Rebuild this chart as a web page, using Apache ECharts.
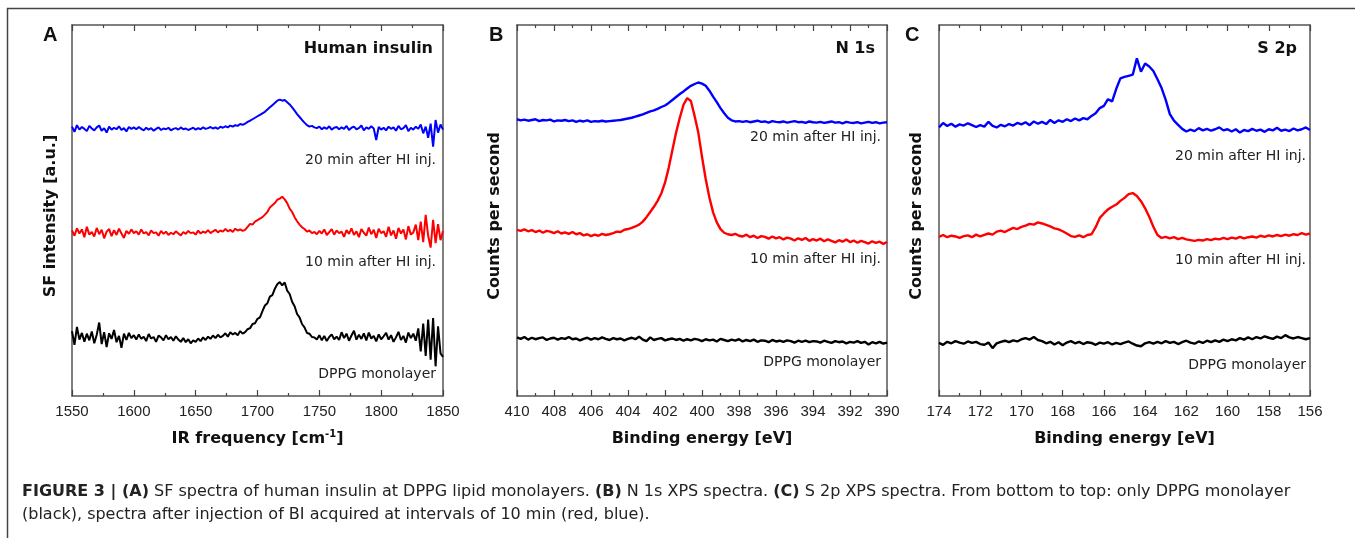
<!DOCTYPE html>
<html><head><meta charset="utf-8">
<script src="https://cdn.jsdelivr.net/npm/echarts@6/dist/echarts.min.js"></script>
<style>html,body{margin:0;padding:0;background:#fff}#c{width:1355px;height:538px}</style>
</head><body><div id="c"></div>
<script>
// ---------- Panel A: SF spectra (x = IR frequency, cm-1) ----------
const aStart = 1550, aStep = 2;
const aBlack = [
17.5,13.8,18.6,15.2,17.0,14.6,16.8,15.0,17.4,14.2,16.5,19.8,14.0,17.2,13.2,16.9,15.4,17.8,14.5,16.2,13.0,16.8,15.1,17.0,15.6,16.4,
15.2,16.6,15.4,16.0,14.8,16.7,15.5,15.9,14.6,16.3,15.8,15.0,16.4,15.3,15.9,14.9,16.1,15.2,14.6,15.6,
14.5,15.3,14.2,15.0,14.6,15.5,14.8,15.8,15.1,16.0,15.4,16.3,15.6,16.5,15.8,16.2,16.9,16.0,17.2,16.6,17.0,16.4,17.5,16.8,
17.2,18.0,18.3,19.4,19.6,20.8,21.2,22.9,24.4,25.0,26.8,27.2,28.9,30.1,30.7,29.8,30.6,28.4,27.5,25.4,
24.2,22.1,21.2,19.4,18.5,17.0,16.8,15.9,15.8,
15.2,16.4,15.0,16.2,14.8,15.9,16.6,15.3,16.0,15.1,17.2,15.6,16.8,14.9,16.3,17.6,15.2,16.5,15.4,16.9,
15.0,17.1,15.5,16.2,14.7,16.6,15.3,16.1,17.0,15.2,16.4,14.6,15.8,17.3,15.1,16.2,14.4,17.1,15.6,16.8,14.9,
18.2,12.0,19.5,10.8,20.6,9.8,21.0,8.0,18.8,11.5,10.5];
const aRed = [
44.6,43.2,45.2,43.8,44.9,42.8,45.6,43.5,44.2,43.0,45.3,43.6,44.8,42.5,44.3,45.0,43.1,44.7,43.4,45.1,43.8,42.6,44.5,43.7,44.9,43.9,
44.4,43.5,44.9,43.8,44.2,43.3,44.6,43.9,44.1,43.2,44.5,43.7,44.3,43.4,44.0,43.6,44.4,43.8,43.3,44.2,
43.7,44.5,43.9,44.1,43.5,44.6,43.8,44.3,44.0,44.7,43.9,44.4,44.8,44.1,44.6,44.3,45.0,44.4,44.8,44.2,45.1,44.6,44.9,44.5,
44.8,45.6,46.4,46.2,47.0,47.4,47.8,48.2,48.9,49.6,50.8,51.4,52.0,52.9,53.2,53.7,53.0,52.0,50.5,49.6,
48.2,47.1,46.2,45.5,45.0,44.3,44.6,43.9,44.2,
43.6,44.5,43.8,44.9,43.4,44.2,45.0,43.5,44.6,43.9,44.3,42.9,44.7,43.7,45.2,43.4,44.4,42.8,45.0,44.0,
43.2,45.4,43.6,44.8,42.6,45.1,43.9,44.4,42.9,45.6,43.3,44.6,42.4,45.3,43.8,44.9,42.2,45.8,43.5,44.1,46.2,
42.0,47.0,41.5,48.8,43.2,40.0,47.5,41.2,46.3,42.0,44.5];
const aBlue = [
72.6,71.2,73.0,71.8,72.5,72.0,71.4,72.8,72.1,71.6,72.4,72.9,71.5,72.2,71.0,72.6,71.8,72.3,71.9,72.7,71.7,72.2,71.3,72.5,72.0,72.4,
71.9,72.5,72.0,71.6,72.3,71.8,72.2,71.5,72.0,72.4,71.7,72.1,71.9,72.3,71.6,72.0,72.2,71.8,72.4,71.9,
72.1,71.7,72.0,72.3,71.8,72.2,71.9,72.4,72.0,72.2,72.5,72.1,72.4,72.0,72.6,72.3,72.7,72.4,72.9,72.6,73.0,72.8,73.3,73.1,
73.4,73.9,74.2,74.6,75.0,75.4,75.8,76.2,76.6,77.2,77.8,78.4,79.0,79.6,79.9,79.6,79.8,79.2,78.6,77.8,
76.9,76.0,75.2,74.4,73.7,73.0,72.6,72.8,72.4,
72.2,72.6,71.9,72.4,72.0,72.7,71.8,72.3,72.5,71.9,72.4,72.0,72.8,71.7,72.3,72.6,71.9,72.2,72.9,71.6,
72.4,72.0,72.7,72.1,69.0,72.5,71.8,72.3,71.6,72.6,72.0,72.4,71.5,72.8,71.9,72.2,73.0,71.4,72.3,71.8,72.6,
72.0,73.2,70.8,72.6,69.6,73.4,67.2,74.4,71.0,73.2,71.8];

// ---------- Panel B: N 1s XPS (x = binding energy, eV, from 410 down) ----------
const bStart = 410, bStep = -0.2;
const bBlack = [
15.8,15.4,15.9,15.2,15.7,15.3,15.6,15.8,15.1,15.5,15.7,15.2,15.6,15.4,15.9,15.3,15.5,15.0,15.4,15.7,15.2,15.6,15.3,15.8,15.4,
15.1,15.6,15.3,15.5,15.0,15.4,15.7,15.3,16.0,15.2,14.8,15.8,15.1,15.4,15.6,15.0,15.3,15.5,15.1,15.4,14.9,15.3,15.0,15.4,15.2,14.8,
15.3,15.0,15.2,14.7,15.4,15.1,14.8,15.2,14.9,15.3,
14.7,15.1,14.8,15.2,14.6,15.0,14.9,14.5,15.1,14.7,14.9,14.6,15.0,14.8,14.4,14.9,14.6,14.9,14.5,14.8,
14.7,14.4,14.9,14.6,14.3,14.8,14.5,14.7,14.2,14.6,14.4,14.8,14.3,14.6,13.9,14.5,14.2,14.6,14.1,14.4];
const bRed = [
44.8,44.5,44.9,44.4,44.7,44.2,44.6,44.0,44.5,44.3,43.9,44.4,43.8,44.1,43.7,44.2,43.6,43.9,43.3,43.6,43.1,43.5,43.2,43.7,43.4,
43.6,43.9,44.3,44.2,44.8,45.0,45.3,45.7,46.2,47.0,48.2,49.6,51.0,52.6,54.6,57.5,61.5,66.3,71.0,75.0,78.5,80.3,79.5,75.5,71.0,64.5,
58.5,53.5,49.5,46.8,45.0,44.0,43.6,43.4,43.7,43.2,
43.0,43.5,42.8,43.2,42.6,43.1,42.9,42.4,43.0,42.5,42.8,42.2,42.7,42.4,41.9,42.5,42.1,42.6,41.8,42.3,
41.9,42.4,41.7,42.2,41.8,41.4,42.0,41.6,42.2,41.5,41.9,41.3,41.8,41.5,41.1,41.7,41.3,41.6,41.0,41.5];
const bBlue = [
74.6,74.3,74.5,74.2,74.4,74.6,74.1,74.4,74.3,74.5,74.0,74.3,74.2,74.4,74.1,74.3,73.9,74.2,74.0,74.3,73.9,74.1,74.0,74.2,74.0,
74.1,74.2,74.3,74.4,74.6,74.8,75.0,75.3,75.6,75.9,76.3,76.7,77.0,77.4,77.9,78.3,79.0,79.8,80.6,81.4,82.1,82.9,83.6,84.1,84.5,84.2,
83.6,82.3,80.7,79.2,77.6,76.2,75.0,74.3,74.0,74.1,
73.9,74.1,73.8,74.0,74.2,73.9,74.0,73.7,74.1,73.9,73.8,74.0,73.7,73.9,74.1,73.8,73.9,73.6,74.0,73.8,
73.7,73.9,73.6,73.8,74.0,73.7,73.8,73.5,73.9,73.7,73.6,73.8,73.5,73.7,73.9,73.6,73.8,73.5,73.7,73.8];

// ---------- Panel C: S 2p XPS (x = binding energy, eV, from 174 down) ----------
const cStart = 174, cStep = -0.2;
const cBlack = [
14.3,13.8,14.6,14.2,14.8,14.4,14.1,14.7,14.3,14.6,14.0,13.8,14.4,12.9,14.2,14.6,14.9,14.5,15.0,14.7,
15.3,15.6,15.2,15.9,15.1,14.8,14.2,14.6,13.9,14.5,13.7,14.4,14.8,
14.2,14.6,14.0,14.5,14.3,13.8,14.4,14.1,14.5,13.9,14.3,14.0,14.4,14.7,14.1,13.6,13.4,14.2,
14.5,14.1,14.6,14.2,14.8,14.3,14.6,14.0,14.5,14.9,14.4,14.1,14.7,14.3,14.9,14.5,15.0,14.6,15.2,14.8,
15.3,15.0,15.6,15.2,15.8,15.3,15.9,15.5,16.1,15.7,15.4,16.0,15.6,16.4,15.8,15.5,15.9,15.6,15.3,15.6];
const cRed = [
42.9,43.4,42.8,43.2,43.0,42.6,43.1,43.3,42.8,43.5,43.0,43.4,43.8,43.5,44.3,44.6,44.2,44.8,45.3,45.0,
45.6,45.9,46.4,46.2,46.8,46.5,46.1,45.7,45.2,44.9,44.4,43.8,43.1,
42.9,43.3,42.8,43.4,43.6,45.5,48.0,49.2,50.3,51.0,51.6,52.6,53.4,54.4,54.7,53.9,52.5,50.6,
48.3,45.6,43.4,42.6,42.9,42.5,42.8,42.3,42.6,42.2,42.0,41.8,42.1,41.9,42.3,42.0,42.4,42.2,42.6,42.3,
42.7,42.4,42.9,42.5,42.8,43.0,42.7,43.2,42.9,43.3,43.0,43.4,43.1,43.5,43.2,43.6,43.4,43.9,43.5,43.8];
const cBlue = [
72.4,73.6,72.8,73.4,72.6,73.2,72.9,73.5,73.0,72.5,73.0,72.6,73.9,72.8,72.4,73.1,72.7,73.3,72.9,73.6,
73.2,73.8,73.0,74.0,73.4,73.9,73.3,74.4,73.6,74.3,73.9,74.6,74.1,
74.8,74.3,74.9,74.6,75.5,76.2,77.6,78.2,80.0,79.4,82.8,85.6,86.0,86.3,86.6,91.0,87.4,89.6,
88.8,87.6,85.4,83.0,79.8,76.0,74.2,73.1,72.0,71.3,71.8,71.4,72.2,71.6,72.0,71.5,71.9,72.4,71.6,71.9,
71.3,71.9,71.0,71.7,71.4,72.0,71.5,71.8,71.2,71.9,71.6,72.3,71.5,71.8,71.4,72.1,71.6,71.9,72.4,71.7];

const seriesLabels = ['20 min after HI inj.', '10 min after HI inj.', 'DPPG monolayer'];
const panelTitles = ['Human insulin', 'N 1s', 'S 2p'];
const panelLetters = ['A', 'B', 'C'];
const xNames = ['IR frequency [cm{sup|-1}]', 'Binding energy [eV]', 'Binding energy [eV]'];
const yNames = ['SF intensity [a.u.]', 'Counts per second', 'Counts per second'];
const xRanges = [[1550, 1850, 50], [390, 410, 2], [156, 174, 2]];

function pairs(start, step, vals) { return vals.map((v, i) => [+(start + step * i).toFixed(2), v]); }

const FONT = '"Liberation Sans", Arial, Helvetica, sans-serif';
const WFONT = '"DejaVu Sans", "Liberation Sans", Arial, sans-serif';
const grids = [
  {left: 72, top: 25, width: 371, height: 371},
  {left: 517, top: 25, width: 370, height: 371},
  {left: 939, top: 25, width: 371, height: 371}
];
const axisCol = '#555';
const xAxes = [], yAxes = [];
grids.forEach((g, k) => {
  const [mn, mx, iv] = xRanges[k];
  const common = {
    gridIndex: k, type: 'value', min: mn, max: mx, interval: iv, inverse: k > 0,
    axisLine: {show: true, onZero: false, lineStyle: {color: axisCol, width: 1.5}},
    axisTick: {show: true, inside: true, length: 6, lineStyle: {color: '#444', width: 1.2}},
    minorTick: {show: true, splitNumber: 2, length: 3, lineStyle: {color: '#444', width: 1.2}},
    splitLine: {show: false}, minorSplitLine: {show: false}
  };
  xAxes.push(Object.assign({}, common, {
    position: 'bottom',
    axisLabel: {fontSize: 15, color: '#222', margin: 8, fontFamily: FONT, formatter: v => String(v)},
    name: xNames[k], nameLocation: 'middle', nameGap: 33,
    nameTextStyle: {fontSize: 16, fontWeight: 'bold', color: '#111', fontFamily: WFONT, lineHeight: 20,
      rich: {sup: {fontSize: 10, fontWeight: 'bold', color: '#111', fontFamily: WFONT, verticalAlign: 'top', lineHeight: 12}}}
  }));
  xAxes.push(Object.assign({}, common, {position: 'top', axisLabel: {show: false}}));
  yAxes.push({
    gridIndex: k, type: 'value', min: 0, max: 100, position: 'left',
    axisLine: {show: true, onZero: false, lineStyle: {color: axisCol, width: 1.5}},
    axisTick: {show: false}, axisLabel: {show: false}, splitLine: {show: false}
  });
  yAxes.push({
    gridIndex: k, type: 'value', min: 0, max: 100, position: 'right',
    axisLine: {show: true, onZero: false, lineStyle: {color: axisCol, width: 1.5}},
    axisTick: {show: false}, axisLabel: {show: false}, splitLine: {show: false}
  });
});

function line(data, color, k, w) {
  return {type: 'line', data: data, xAxisIndex: 2 * k, yAxisIndex: 2 * k, showSymbol: false, symbol: 'none',
    lineStyle: {color: color, width: w}, itemStyle: {color: color}, animation: false, silent: true};
}
const series = [
  line(pairs(aStart, aStep, aBlack), '#000000', 0, 2),
  line(pairs(aStart, aStep, aRed), '#ff0000', 0, 2),
  line(pairs(aStart, aStep, aBlue), '#0000ff', 0, 2),
  line(pairs(bStart, bStep, bBlack), '#000000', 1, 2.4),
  line(pairs(bStart, bStep, bRed), '#ff0000', 1, 2.4),
  line(pairs(bStart, bStep, bBlue), '#0000ff', 1, 2.4),
  line(pairs(cStart, cStep, cBlack), '#000000', 2, 2.4),
  line(pairs(cStart, cStep, cRed), '#ff0000', 2, 2.4),
  line(pairs(cStart, cStep, cBlue), '#0000ff', 2, 2.4)
];

// text layout positions
const letterX = [43, 489, 905];
const titleRight = [433, 875, 1297];
const labelRight = [436, 881, 1306];
const labelY = [[160, 262, 374], [137, 259, 362], [156, 260, 365]];
const yTitleX = [51, 495, 917];
const graphic = [
  {type: 'rect', shape: {x: 7.5, y: 8.5, width: 1400, height: 600}, style: {fill: 'none', stroke: '#444', lineWidth: 1.5}, silent: true, z: -10}
];
for (let k = 0; k < 3; k++) {
  graphic.push({type: 'text', x: letterX[k], y: 35, style: {text: panelLetters[k], fill: '#111', fontSize: 20, fontWeight: 'bold', fontFamily: FONT, textAlign: 'left', textVerticalAlign: 'middle'}});
  graphic.push({type: 'text', x: titleRight[k], y: 49, style: {text: panelTitles[k], fill: '#111', fontSize: 16, fontWeight: 'bold', fontFamily: WFONT, textAlign: 'right', textVerticalAlign: 'middle'}});
  graphic.push({type: 'text', x: yTitleX[k], y: 216, rotation: Math.PI / 2, style: {text: yNames[k], fill: '#111', fontSize: 16, fontWeight: 'bold', fontFamily: WFONT, textAlign: 'center', textVerticalAlign: 'middle'}});
  for (let j = 0; j < 3; j++) {
    graphic.push({type: 'text', x: labelRight[k], y: labelY[k][j], style: {text: seriesLabels[j], fill: '#222', fontSize: 14, fontFamily: WFONT, textAlign: 'right', textVerticalAlign: 'middle'}});
  }
}
const capRich = {b: {fontWeight: 'bold', fontSize: 16, fontFamily: WFONT, fill: '#222', color: '#222'}};
graphic.push({type: 'text', x: 22, y: 492, style: {
  text: '{b|FIGURE 3 | (A)} SF spectra of human insulin at DPPG lipid monolayers. {b|(B)} N 1s XPS spectra. {b|(C)} S 2p XPS spectra. From bottom to top: only DPPG monolayer',
  rich: capRich, fill: '#222', fontSize: 16, fontFamily: WFONT, textAlign: 'left', textVerticalAlign: 'middle'}});
graphic.push({type: 'text', x: 22, y: 515, style: {
  text: '(black), spectra after injection of BI acquired at intervals of 10 min (red, blue).',
  fill: '#222', fontSize: 16, fontFamily: WFONT, textAlign: 'left', textVerticalAlign: 'middle'}});

const chart = echarts.init(document.getElementById('c'), null, {renderer: 'canvas'});
chart.setOption({
  animation: false,
  backgroundColor: '#ffffff',
  grid: grids,
  xAxis: xAxes,
  yAxis: yAxes,
  series: series,
  graphic: graphic
});
</script></body></html>
